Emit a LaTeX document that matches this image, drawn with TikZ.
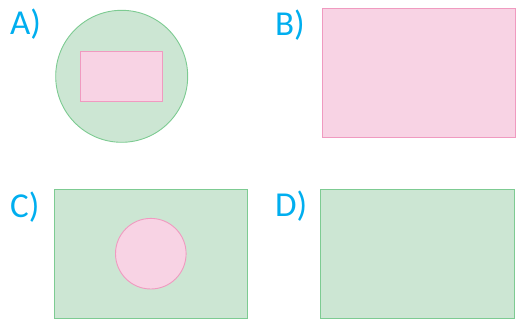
\documentclass[tikz,border=0pt]{standalone}
\usepackage{fontspec}
\setmainfont{Carlito}
\usepackage{tikz}
\usetikzlibrary{positioning}
\definecolor{labelblue}{HTML}{00AEEF}
\definecolor{greenfill}{HTML}{CCE6D3}
\definecolor{greenline}{HTML}{7DCB92}
\definecolor{pinkfill}{HTML}{F8D3E4}
\definecolor{pinkline}{HTML}{F09AC0}

\begin{document}
\begin{tikzpicture}[x=1pt,y=-1pt,
  optlabel/.style={anchor=base west,inner sep=0pt,text=labelblue,font=\fontsize{35}{35}\selectfont},
  greenpart/.style={draw=greenline,fill=greenfill,line width=0.9pt},
  pinkpart/.style={draw=pinkline,fill=pinkfill,line width=0.9pt}]
\useasboundingbox (0,0) rectangle (521,320);
% option A
\node[optlabel] (labA) at (10,35) {A)};
\draw[greenpart] (121.7,76.3) circle[radius=66];
\draw[pinkpart] (80.3,51.3) rectangle (162.7,101);
% option B
\node[optlabel] (labB) at (275,36) {B)};
\draw[pinkpart] (322.3,8.7) rectangle (515.7,137.3);
% option C
\node[optlabel] (labC) at (10,217) {C)};
\draw[greenpart] (54.3,189) rectangle (247.3,318.3);
\draw[pinkpart] (150.8,253.7) circle[radius=35.3];
% option D
\node[optlabel] (labD) at (275,216.5) {D)};
\draw[greenpart] (320,189) rectangle (514,318.3);
\end{tikzpicture}
\end{document}
